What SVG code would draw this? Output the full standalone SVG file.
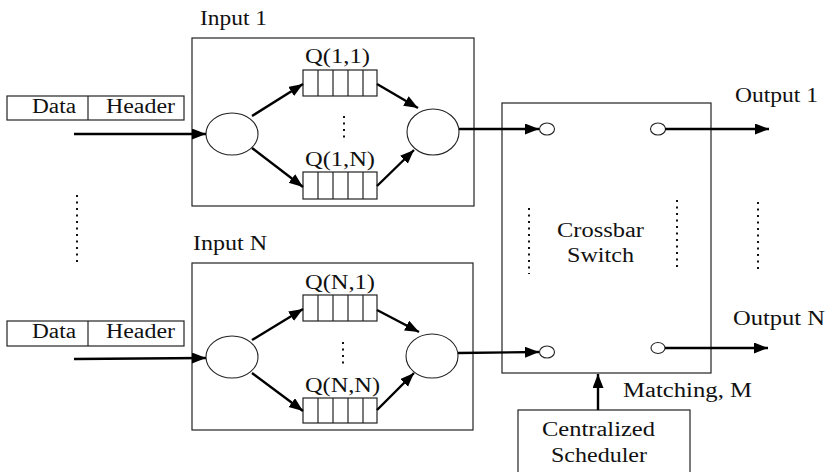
<svg xmlns="http://www.w3.org/2000/svg" width="828" height="472" viewBox="0 0 828 472">
<style>
text{font-family:"Liberation Serif","Times New Roman",serif;font-size:20px;fill:#111}
.box{fill:none;stroke:#222;stroke-width:1.2}
.node{fill:#fff;stroke:#222;stroke-width:1.1}
.arr{stroke:#000;stroke-width:2.4;fill:none;marker-end:url(#ah)}
.dots{stroke:#111;stroke-width:2;stroke-dasharray:2 4.5;fill:none}
</style>
<defs>
<marker id="ah" markerUnits="userSpaceOnUse" markerWidth="15" markerHeight="12" refX="14" refY="5.5" orient="auto">
<path d="M0,0 L14,5.5 L0,11 z" fill="#000"/>
</marker>
</defs>
<rect width="828" height="472" fill="#fff"/>

<g id="packet1">
<rect class="box" x="7" y="96" width="177" height="24"/>
<line class="box" x1="88" y1="96" x2="88" y2="120"/>
<text x="32" y="113" textLength="44" lengthAdjust="spacingAndGlyphs">Data</text>
<text x="106" y="113" textLength="69" lengthAdjust="spacingAndGlyphs">Header</text>
</g>
<g id="packetN">
<rect class="box" x="7" y="321" width="177" height="25"/>
<line class="box" x1="88" y1="321" x2="88" y2="346"/>
<text x="32" y="338" textLength="44" lengthAdjust="spacingAndGlyphs">Data</text>
<text x="106" y="338" textLength="69" lengthAdjust="spacingAndGlyphs">Header</text>
</g>

<g id="input1">
<text x="200" y="25" textLength="67" lengthAdjust="spacingAndGlyphs">Input 1</text>
<rect class="box" x="192" y="38" width="282" height="168"/>
<ellipse class="node" cx="232" cy="134" rx="26" ry="21"/>
<ellipse class="node" cx="433" cy="132" rx="26" ry="23"/>
<text x="305" y="63" textLength="65" lengthAdjust="spacingAndGlyphs">Q(1,1)</text>
<rect class="box" x="303" y="70" width="74" height="26"/>
<path class="box" d="M318,70V96M333,70V96M348,70V96M363,70V96"/>
<line class="dots" x1="344" y1="116" x2="344" y2="138"/>
<text x="305" y="166" textLength="70" lengthAdjust="spacingAndGlyphs">Q(1,N)</text>
<rect class="box" x="303" y="172" width="74" height="27"/>
<path class="box" d="M318,172V199M333,172V199M348,172V199M363,172V199"/>
</g>

<g id="inputN">
<text x="193" y="250" textLength="74" lengthAdjust="spacingAndGlyphs">Input N</text>
<rect class="box" x="192" y="263" width="281" height="167"/>
<ellipse class="node" cx="232" cy="357" rx="26" ry="21"/>
<ellipse class="node" cx="432" cy="356" rx="26" ry="22"/>
<text x="305" y="289" textLength="70" lengthAdjust="spacingAndGlyphs">Q(N,1)</text>
<rect class="box" x="303" y="295" width="74" height="26"/>
<path class="box" d="M318,295V321M333,295V321M348,295V321M363,295V321"/>
<line class="dots" x1="343" y1="342" x2="343" y2="364"/>
<text x="305" y="392" textLength="75" lengthAdjust="spacingAndGlyphs">Q(N,N)</text>
<rect class="box" x="303" y="398" width="74" height="25"/>
<path class="box" d="M318,398V423M333,398V423M348,398V423M363,398V423"/>
</g>

<g id="crossbar">
<rect class="box" x="502" y="103" width="209" height="270"/>
<ellipse class="node" cx="547" cy="129" rx="7.5" ry="6"/>
<ellipse class="node" cx="658" cy="129" rx="7.5" ry="6"/>
<ellipse class="node" cx="547" cy="352" rx="7.5" ry="6"/>
<ellipse class="node" cx="658" cy="348" rx="7" ry="5.5"/>
<line class="dots" x1="529" y1="208" x2="529" y2="274"/>
<line class="dots" x1="677" y1="200" x2="677" y2="268"/>
<text x="557" y="237" textLength="87" lengthAdjust="spacingAndGlyphs">Crossbar</text>
<text x="567" y="262" textLength="67" lengthAdjust="spacingAndGlyphs">Switch</text>
</g>

<g id="scheduler">
<rect class="box" x="518" y="410" width="172" height="70"/>
<text x="542" y="436" textLength="113" lengthAdjust="spacingAndGlyphs">Centralized</text>
<text x="551" y="462" textLength="96" lengthAdjust="spacingAndGlyphs">Scheduler</text>
</g>

<g id="outputs">
<text x="735" y="102" textLength="83" lengthAdjust="spacingAndGlyphs">Output 1</text>
<text x="733" y="325" textLength="92" lengthAdjust="spacingAndGlyphs">Output N</text>
<text x="623" y="397" textLength="129" lengthAdjust="spacingAndGlyphs">Matching, M</text>
<line class="dots" x1="77" y1="195" x2="77" y2="262"/>
<line class="dots" x1="758" y1="202" x2="758" y2="270"/>
</g>

<g id="connectors">
<line class="arr" x1="74" y1="134" x2="206" y2="134"/>
<line class="arr" x1="74" y1="359" x2="206" y2="358"/>
<line class="arr" x1="252" y1="116" x2="303" y2="84"/>
<line class="arr" x1="252" y1="148" x2="303" y2="187"/>
<line class="arr" x1="377" y1="84" x2="418" y2="108"/>
<line class="arr" x1="377" y1="186" x2="414" y2="150"/>
<line class="arr" x1="459" y1="129" x2="539" y2="129"/>
<line class="arr" x1="665" y1="129" x2="769" y2="129"/>
<line class="arr" x1="252" y1="340" x2="303" y2="309"/>
<line class="arr" x1="252" y1="373" x2="303" y2="411"/>
<line class="arr" x1="377" y1="310" x2="419" y2="332"/>
<line class="arr" x1="377" y1="410" x2="414" y2="373"/>
<line class="arr" x1="458" y1="353" x2="539" y2="352"/>
<line class="arr" x1="665" y1="348" x2="768" y2="348"/>
<line class="arr" x1="598" y1="410" x2="598" y2="374"/>
</g>
</svg>
